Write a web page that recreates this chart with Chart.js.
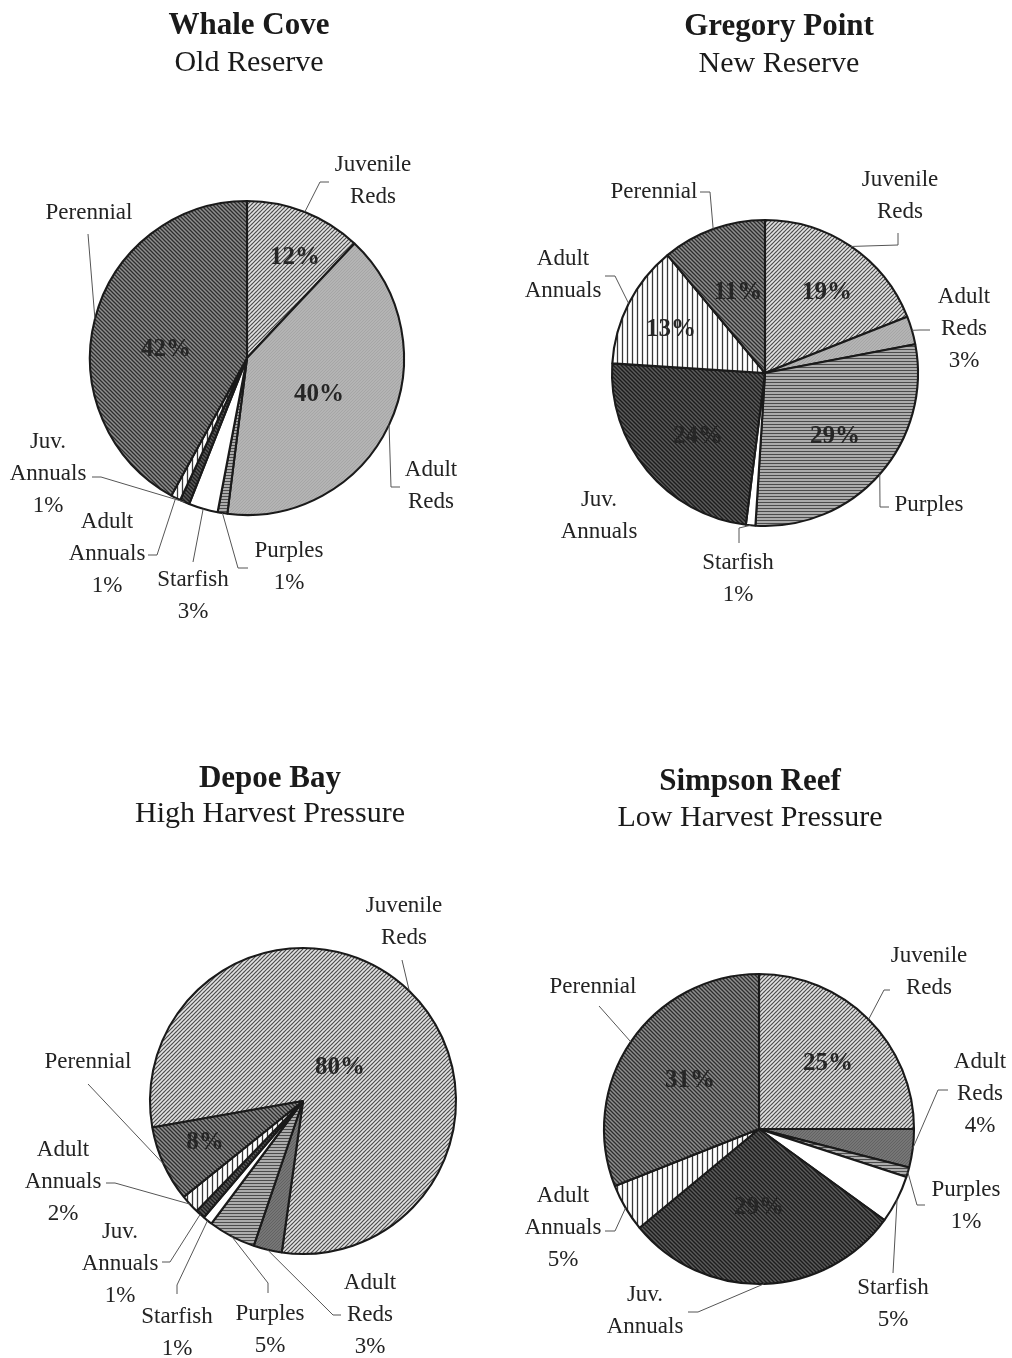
<!DOCTYPE html>
<html>
<head>
<meta charset="utf-8">
<script src="https://cdn.jsdelivr.net/npm/chart.js@4/dist/chart.umd.min.js"></script>
<style>
  html, body { margin: 0; padding: 0; background: #ffffff; }
  #page { position: relative; width: 1012px; height: 1358px; overflow: hidden; background: #fff; }
  #page canvas { position: absolute; left: 0; top: 0; }
</style>
</head>
<body>
<div id="page"></div>
<script>
// ---------------- DATA ----------------
const categories = ["Juvenile Reds", "Adult Reds", "Purples", "Starfish", "Juv. Annuals", "Adult Annuals", "Perennial"];
const whaleCove    = [12, 40, 1, 3, 1, 1, 42];
const gregoryPoint = [19, 3, 29, 1, 24, 13, 11];
const depoeBay     = [80, 3, 5, 1, 1, 2, 8];
const simpsonReef  = [25, 4, 1, 5, 29, 5, 31];
const siteNames    = ["Whale Cove", "Gregory Point", "Depoe Bay", "Simpson Reef"];
const siteTypes    = ["Old Reserve", "New Reserve", "High Harvest Pressure", "Low Harvest Pressure"];
const INSIDE_MIN = 8;   // percentages at or above this are written inside the slice

// ---------------- STYLES ----------------
const W = 1012, H = 1358;
const FONT = "'Liberation Serif', 'Times New Roman', serif";
const TEXT = '#232323';

function makePattern(bg, fg, kind, period, lw) {
  const c = document.createElement('canvas');
  c.width = period; c.height = period;
  const x = c.getContext('2d');
  x.fillStyle = bg; x.fillRect(0, 0, period, period);
  if (kind) {
    x.strokeStyle = fg; x.lineWidth = lw; x.lineCap = 'square';
    x.beginPath();
    for (let k = -1; k <= 1; k++) {
      if (kind === 'fwd')  { x.moveTo(k * period, period); x.lineTo(k * period + period, 0); }
      if (kind === 'back') { x.moveTo(k * period, 0); x.lineTo(k * period + period, period); }
    }
    if (kind === 'h') { x.moveTo(0, period / 2); x.lineTo(period, period / 2); }
    if (kind === 'v') { x.moveTo(period / 2, 0); x.lineTo(period / 2, period); }
    x.stroke();
  }
  return x.createPattern(c, 'repeat');
}

function fillsFor(darkAdultReds) {
  return [
    makePattern('#e2e2e2', '#4a4a4a', 'fwd', 4, 1.15),           // Juvenile Reds
    darkAdultReds ? makePattern('#767676', '#565656', 'fwd', 3, 0.6)
                  : makePattern('#b4b4b4', '#9c9c9c', 'fwd', 3, 0.6), // Adult Reds
    makePattern('#acacac', '#4c4c4c', 'h', 3, 1),               // Purples
    '#ffffff',                                                  // Starfish
    makePattern('#5c5c5c', '#1c1c1c', 'back', 4, 1.4),           // Juv. Annuals
    makePattern('#ffffff', '#383838', 'v', 5, 1.3),             // Adult Annuals
    makePattern('#8e8e8e', '#2e2e2e', 'back', 4, 1.3)            // Perennial
  ];
}

// ---------------- LAYOUT (positions only) ----------------
const LAYOUT = [
  { values: whaleCove, tx: 249, ty: 34, sy: 71, cx: 247, cy: 358, r: 157, rot: 0, dark: false,
    inside: { 0: [295, 258], 1: [319, 395], 6: [166, 350] },
    outside: {
      0: { x: 373, y: 165, lead: [[320, 182], [329, 182]] },
      1: { x: 431, y: 470, lead: [[391, 487], [400, 487]] },
      2: { x: 289, y: 551, lead: [[238, 568], [248, 568]] },
      3: { x: 193, y: 580, lead: [[193, 562]] },
      4: { x: 48,  y: 442, lead: [[101, 477], [92, 477]] },
      5: { x: 107, y: 522, lead: [[157, 555], [148, 555]] },
      6: { x: 89,  y: 213, lead: [[88, 234]] }
    } },
  { values: gregoryPoint, tx: 779, ty: 35, sy: 72, cx: 765, cy: 373, r: 153, rot: 0, dark: false,
    inside: { 0: [827, 293], 2: [835, 437], 4: [698, 437], 5: [671, 330], 6: [738, 293] },
    outside: {
      0: { x: 900, y: 180, lead: [[898, 245], [898, 233]] },
      1: { x: 964, y: 297, lead: [[920, 330], [930, 330]] },
      2: { x: 929, y: 505, lead: [[880, 507], [889, 507]] },
      3: { x: 738, y: 563, lead: [[739, 528], [739, 543]] },
      4: { x: 599, y: 500, lead: null },
      5: { x: 563, y: 259, lead: [[615, 276], [605, 276]] },
      6: { x: 654, y: 192, lead: [[710, 192], [700, 192]] }
    } },
  { values: depoeBay, tx: 270, ty: 787, sy: 822, cx: 303, cy: 1101, r: 153, rot: 260, dark: true,
    inside: { 0: [340, 1068], 6: [205, 1143] },
    outside: {
      0: { x: 404, y: 906, lead: [[402, 960]] },
      1: { x: 370, y: 1283, lead: [[333, 1315], [341, 1315]] },
      2: { x: 270, y: 1314, lead: [[268, 1283], [268, 1293]] },
      3: { x: 177, y: 1317, lead: [[177, 1285], [177, 1294]] },
      4: { x: 120, y: 1232, lead: [[170, 1262], [162, 1262]] },
      5: { x: 63,  y: 1150, lead: [[115, 1183], [106, 1183]] },
      6: { x: 88,  y: 1062, lead: [[88, 1084]] }
    } },
  { values: simpsonReef, tx: 750, ty: 790, sy: 826, cx: 759, cy: 1129, r: 155, rot: 0, dark: true,
    inside: { 0: [828, 1064], 4: [759, 1208], 6: [690, 1081] },
    outside: {
      0: { x: 929, y: 956, lead: [[884, 990], [890, 990]] },
      1: { x: 980, y: 1062, lead: [[938, 1090], [948, 1090]] },
      2: { x: 966, y: 1190, lead: [[917, 1205], [925, 1205]] },
      3: { x: 893, y: 1288, lead: [[893, 1273]] },
      4: { x: 645, y: 1295, lead: [[698, 1312], [688, 1312]] },
      5: { x: 563, y: 1196, lead: [[615, 1231], [605, 1231]] },
      6: { x: 593, y: 987, lead: [[599, 1006]] }
    } }
];

// ---------------- LABEL PLUGIN ----------------
const labelPlugin = {
  id: 'pieLabels',
  afterDraw(chart) {
    const L = chart.options.plugins.pieLabels;
    const idx = L.index;
    const ctx = chart.ctx;
    const meta = chart.getDatasetMeta(0);
    const values = chart.data.datasets[0].data;
    ctx.save();
    // titles
    ctx.fillStyle = '#1a1a1a';
    ctx.textAlign = 'center';
    ctx.textBaseline = 'alphabetic';
    ctx.font = 'bold 31px ' + FONT;
    ctx.fillText(siteNames[idx], L.tx, L.ty);
    ctx.font = '30px ' + FONT;
    ctx.fillText(siteTypes[idx], L.tx, L.sy);

    // leader lines
    ctx.strokeStyle = '#555555';
    ctx.lineWidth = 1;
    meta.data.forEach((arc, i) => {
      const o = L.outside[i];
      if (!o || !o.lead) return;
      const p = arc.getProps(['x', 'y', 'startAngle', 'endAngle', 'outerRadius'], true);
      const mid = (p.startAngle + p.endAngle) / 2;
      const ex = p.x + Math.cos(mid) * p.outerRadius;
      const ey = p.y + Math.sin(mid) * p.outerRadius;
      ctx.beginPath();
      ctx.moveTo(ex, ey);
      o.lead.forEach(pt => ctx.lineTo(pt[0], pt[1]));
      ctx.stroke();
    });

    // outside labels
    ctx.fillStyle = TEXT;
    ctx.textBaseline = 'middle';
    ctx.font = '23px ' + FONT;
    categories.forEach((name, i) => {
      const o = L.outside[i];
      if (!o) return;
      const lines = name.split(' ');
      if (values[i] < INSIDE_MIN) lines.push(values[i] + '%');
      lines.forEach((t, k) => ctx.fillText(t, o.x, o.y + k * 32));
    });

    // inside percentages
    ctx.font = 'bold 25px ' + FONT;
    ctx.fillStyle = '#262626';
    categories.forEach((name, i) => {
      const q = L.inside[i];
      if (!q || values[i] < INSIDE_MIN) return;
      ctx.fillText(values[i] + '%', q[0], q[1]);
    });
    ctx.restore();
  }
};

// ---------------- CHARTS ----------------
const page = document.getElementById('page');
LAYOUT.forEach((L, idx) => {
  const cv = document.createElement('canvas');
  cv.width = W; cv.height = H;
  cv.style.width = W + 'px'; cv.style.height = H + 'px';
  page.appendChild(cv);
  const pad = {
    left:   L.cx < W / 2 ? 0 : 2 * L.cx - W,
    right:  L.cx < W / 2 ? W - 2 * L.cx : 0,
    top:    L.cy < H / 2 ? 0 : 2 * L.cy - H,
    bottom: L.cy < H / 2 ? H - 2 * L.cy : 0
  };
  new Chart(cv, {
    type: 'pie',
    data: {
      labels: categories,
      datasets: [{
        data: L.values,
        backgroundColor: fillsFor(L.dark),
        borderColor: '#1a1a1a',
        borderWidth: 2.1,
        radius: L.r,
        rotation: L.rot,
        clip: false
      }]
    },
    options: {
      responsive: false,
      maintainAspectRatio: false,
      devicePixelRatio: 1,
      animation: false,
      events: [],
      radius: L.r,
      rotation: L.rot,
      layout: { padding: pad },
      plugins: {
        legend: { display: false },
        tooltip: { enabled: false },
        title: { display: false },
        pieLabels: Object.assign({ index: idx }, L)
      }
    },
    plugins: [labelPlugin]
  });
});
</script>
</body>
</html>
